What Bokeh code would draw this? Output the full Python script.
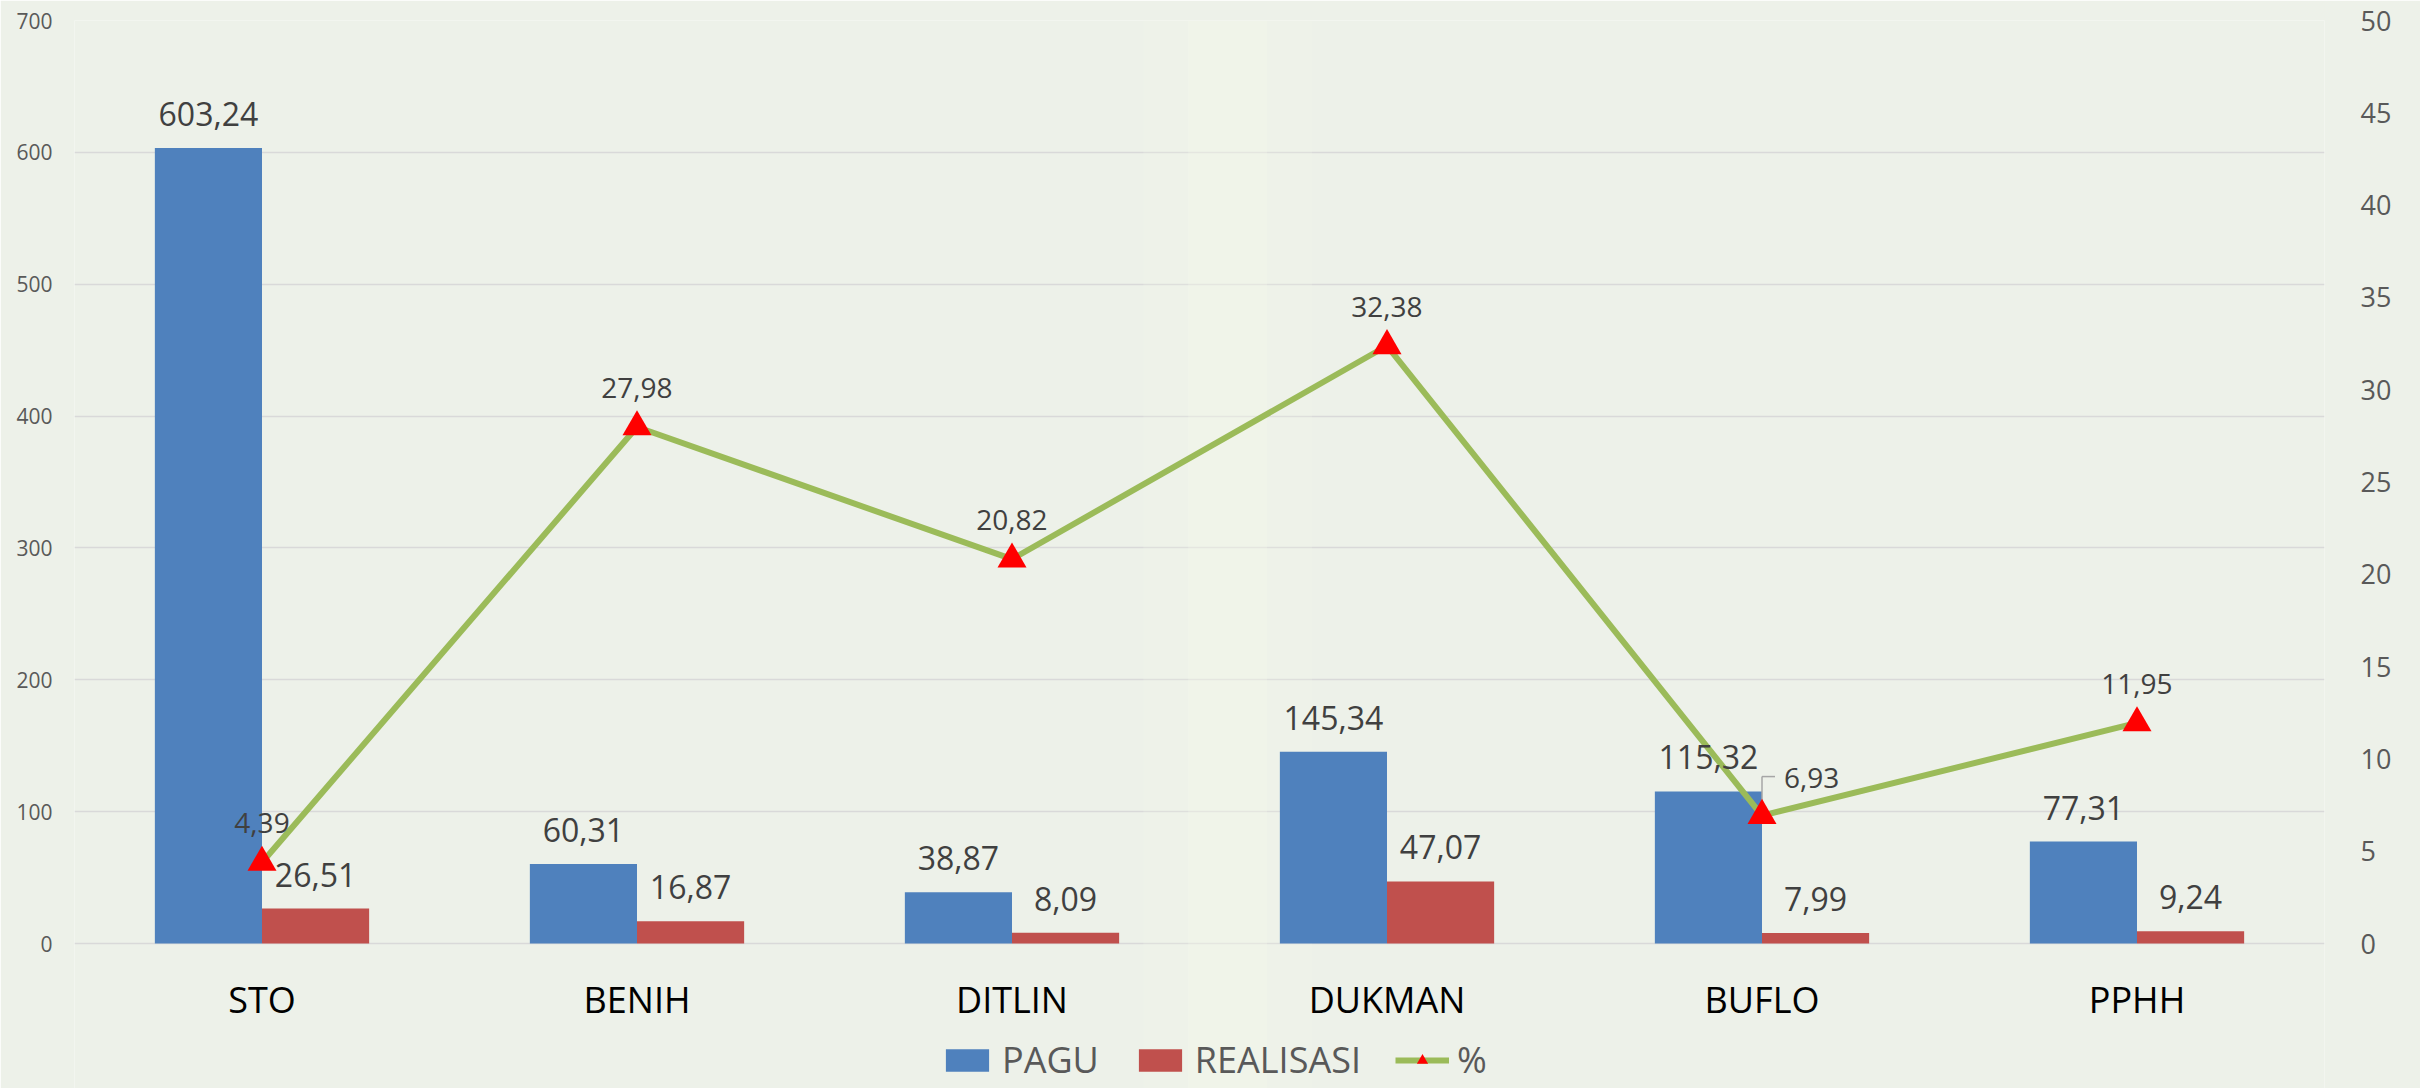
from bokeh.plotting import figure
from bokeh.models import (ColumnDataSource, FactorRange, Range1d, LinearAxis, FixedTicker,
                          LabelSet, Legend, LegendItem, BoxAnnotation)
from bokeh.transform import dodge
from bokeh.core.properties import value
from bokeh.embed import file_html
from bokeh.resources import INLINE

# ---------------- data ----------------
categories = ["STO", "BENIH", "DITLIN", "DUKMAN", "BUFLO", "PPHH"]
pagu = [603.24, 60.31, 38.87, 145.34, 115.32, 77.31]
realisasi = [26.51, 16.87, 8.09, 47.07, 7.99, 9.24]
persen = [4.39, 27.98, 20.82, 32.38, 6.93, 11.95]
left_ticks = [0, 100, 200, 300, 400, 500, 600, 700]
right_ticks = [0, 5, 10, 15, 20, 25, 30, 35, 40, 45, 50]


def fmt(v):
    return f"{v:.2f}".replace(".", ",")


FONT = "Open Sans"
BG = "#edf1e9"
BLUE = "#4f81bd"
RED = "#c0504d"
GREEN = "#9bbb59"

W, H = 2420, 1088
TOP, ZERO_Y = 20, 943          # canvas y of the top value line and of the zero line
plot_px = ZERO_Y - TOP
below_px = H - ZERO_Y          # room for category labels and legend inside the frame
lmin = -below_px * (left_ticks[-1] - left_ticks[0]) / plot_px
rmin = -below_px * (right_ticks[-1] - right_ticks[0]) / plot_px

src = ColumnDataSource(dict(
    cat=categories, pagu=pagu, realisasi=realisasi, persen=persen,
    zero=[0] * len(categories),
    pagu_lbl=[fmt(v) for v in pagu],
    real_lbl=[fmt(v) for v in realisasi],
))
special = 4  # BUFLO % label sits to the right, with a leader line
normal_idx = [i for i in range(len(categories)) if i != special]
src_pct_norm = ColumnDataSource(dict(
    cat=[categories[i] for i in normal_idx],
    persen=[persen[i] for i in normal_idx],
    pct_lbl=[fmt(persen[i]) for i in normal_idx],
))
src_pct_sp = ColumnDataSource(dict(
    cat=[categories[special]], persen=[persen[special]], pct_lbl=[fmt(persen[special])],
))

p = figure(
    x_range=FactorRange(*categories, range_padding=0),
    y_range=Range1d(lmin, left_ticks[-1]),
    x_axis_location=None,
    width=W, height=H,
    min_border_left=74, min_border_right=96, min_border_top=TOP, min_border_bottom=0,
    output_backend="svg", toolbar_location=None,
    background_fill_color=BG, border_fill_color=BG, outline_line_color=None,
)
p.extra_y_ranges = {"pct": Range1d(rmin, right_ticks[-1])}

# faint light band of the background picture
p.add_layout(BoxAnnotation(left=2.85, right=3.3, fill_color="#f6f9ec", fill_alpha=0.2,
                           line_color=None, level="underlay"))
p.add_layout(BoxAnnotation(left=2.97, right=3.18, fill_color="#f6f9ea", fill_alpha=0.3,
                           line_color=None, level="underlay"))

bw = 1 / 3.5
off = 0.5 / 3.5
r_pagu = p.vbar(x=dodge("cat", -off, range=p.x_range), top="pagu", width=bw, source=src,
                fill_color=BLUE, line_color=None)
r_real = p.vbar(x=dodge("cat", off, range=p.x_range), top="realisasi", width=bw, source=src,
                fill_color=RED, line_color=None)

# leader line for the BUFLO % label
px_per_pct = plot_px / (right_ticks[-1] - right_ticks[0])
lead_up = 39 / px_per_pct
lead_right = 13 / 375
lead_y = persen[special] + lead_up
p.segment(x0=dodge("cat", 0, range=p.x_range), y0="y0",
          x1=dodge("cat", lead_right, range=p.x_range), y1="y0",
          source=ColumnDataSource(dict(cat=[categories[special]], y0=[lead_y])),
          y_range_name="pct", line_color="#a6a6a6", line_width=1.5)
p.segment(x0=dodge("cat", 0, range=p.x_range), y0="y0",
          x1=dodge("cat", 0, range=p.x_range), y1="y1",
          source=ColumnDataSource(dict(cat=[categories[special]],
                                       y0=[persen[special]], y1=[lead_y])),
          y_range_name="pct", line_color="#a6a6a6", line_width=1.5)

r_line = p.line(x="cat", y="persen", source=src, y_range_name="pct",
                line_color=GREEN, line_width=6)
r_tri = p.scatter(x="cat", y="persen", source=src, y_range_name="pct", marker="triangle",
                  size=29, fill_color="#ff0000", line_color=None)

# axes
p.yaxis.ticker = FixedTicker(ticks=left_ticks)
ax_r = LinearAxis(y_range_name="pct", ticker=FixedTicker(ticks=right_ticks))
p.add_layout(ax_r, "right")
for ax in [p.yaxis[0], ax_r]:
    ax.axis_line_color = None
    ax.major_tick_line_color = None
    ax.minor_tick_line_color = None
    ax.major_tick_out = 0
    ax.major_tick_in = 0
    ax.major_label_text_font = FONT
    ax.major_label_text_color = "#595959"
p.yaxis[0].major_label_text_font_size = "21px"
p.yaxis[0].major_label_standoff = 22
ax_r.major_label_text_font_size = "27px"
ax_r.major_label_standoff = 36

p.xgrid.grid_line_color = None
p.ygrid.grid_line_color = "#d9d9d9"
p.ygrid.grid_line_width = 1.5

# category labels (x axis) under the zero line
p.add_layout(LabelSet(x="cat", y="zero", text="cat", source=src, y_offset=-69,
                      text_align="center", text_baseline="alphabetic",
                      text_font=value(FONT), text_font_size="36px", text_color="#000000"))

# data labels
common = dict(text_font=value(FONT), text_color="#404040", text_baseline="alphabetic")
p.add_layout(LabelSet(x=dodge("cat", -off, range=p.x_range), y="pagu", text="pagu_lbl",
                      source=src, y_offset=22, text_align="center",
                      text_font_size="32px", **common))
p.add_layout(LabelSet(x=dodge("cat", off, range=p.x_range), y="realisasi", text="real_lbl",
                      source=src, y_offset=22, text_align="center",
                      text_font_size="32px", **common))
p.add_layout(LabelSet(x="cat", y="persen", text="pct_lbl", source=src_pct_norm,
                      y_range_name="pct", y_offset=29, text_align="center",
                      text_font_size="28px", **common))
p.add_layout(LabelSet(x="cat", y="persen", text="pct_lbl", source=src_pct_sp,
                      y_range_name="pct", x_offset=22, y_offset=28, text_align="left",
                      text_font_size="28px", **common))

legend = Legend(items=[
    LegendItem(label="PAGU", renderers=[r_pagu]),
    LegendItem(label="REALISASI", renderers=[r_real]),
    LegendItem(label="%", renderers=[r_line, r_tri]),
], orientation="horizontal", location=(866, 4))
legend.label_text_font = FONT
legend.label_text_font_size = "36px"
legend.label_text_color = "#595959"
legend.glyph_width = 54
legend.glyph_height = 28
legend.label_standoff = 8
legend.spacing = 34
legend.padding = 0
legend.margin = 0
legend.border_line_alpha = 0
legend.background_fill_alpha = 0
p.add_layout(legend, "center")

open("out.html", "w").write(file_html(p, INLINE))
